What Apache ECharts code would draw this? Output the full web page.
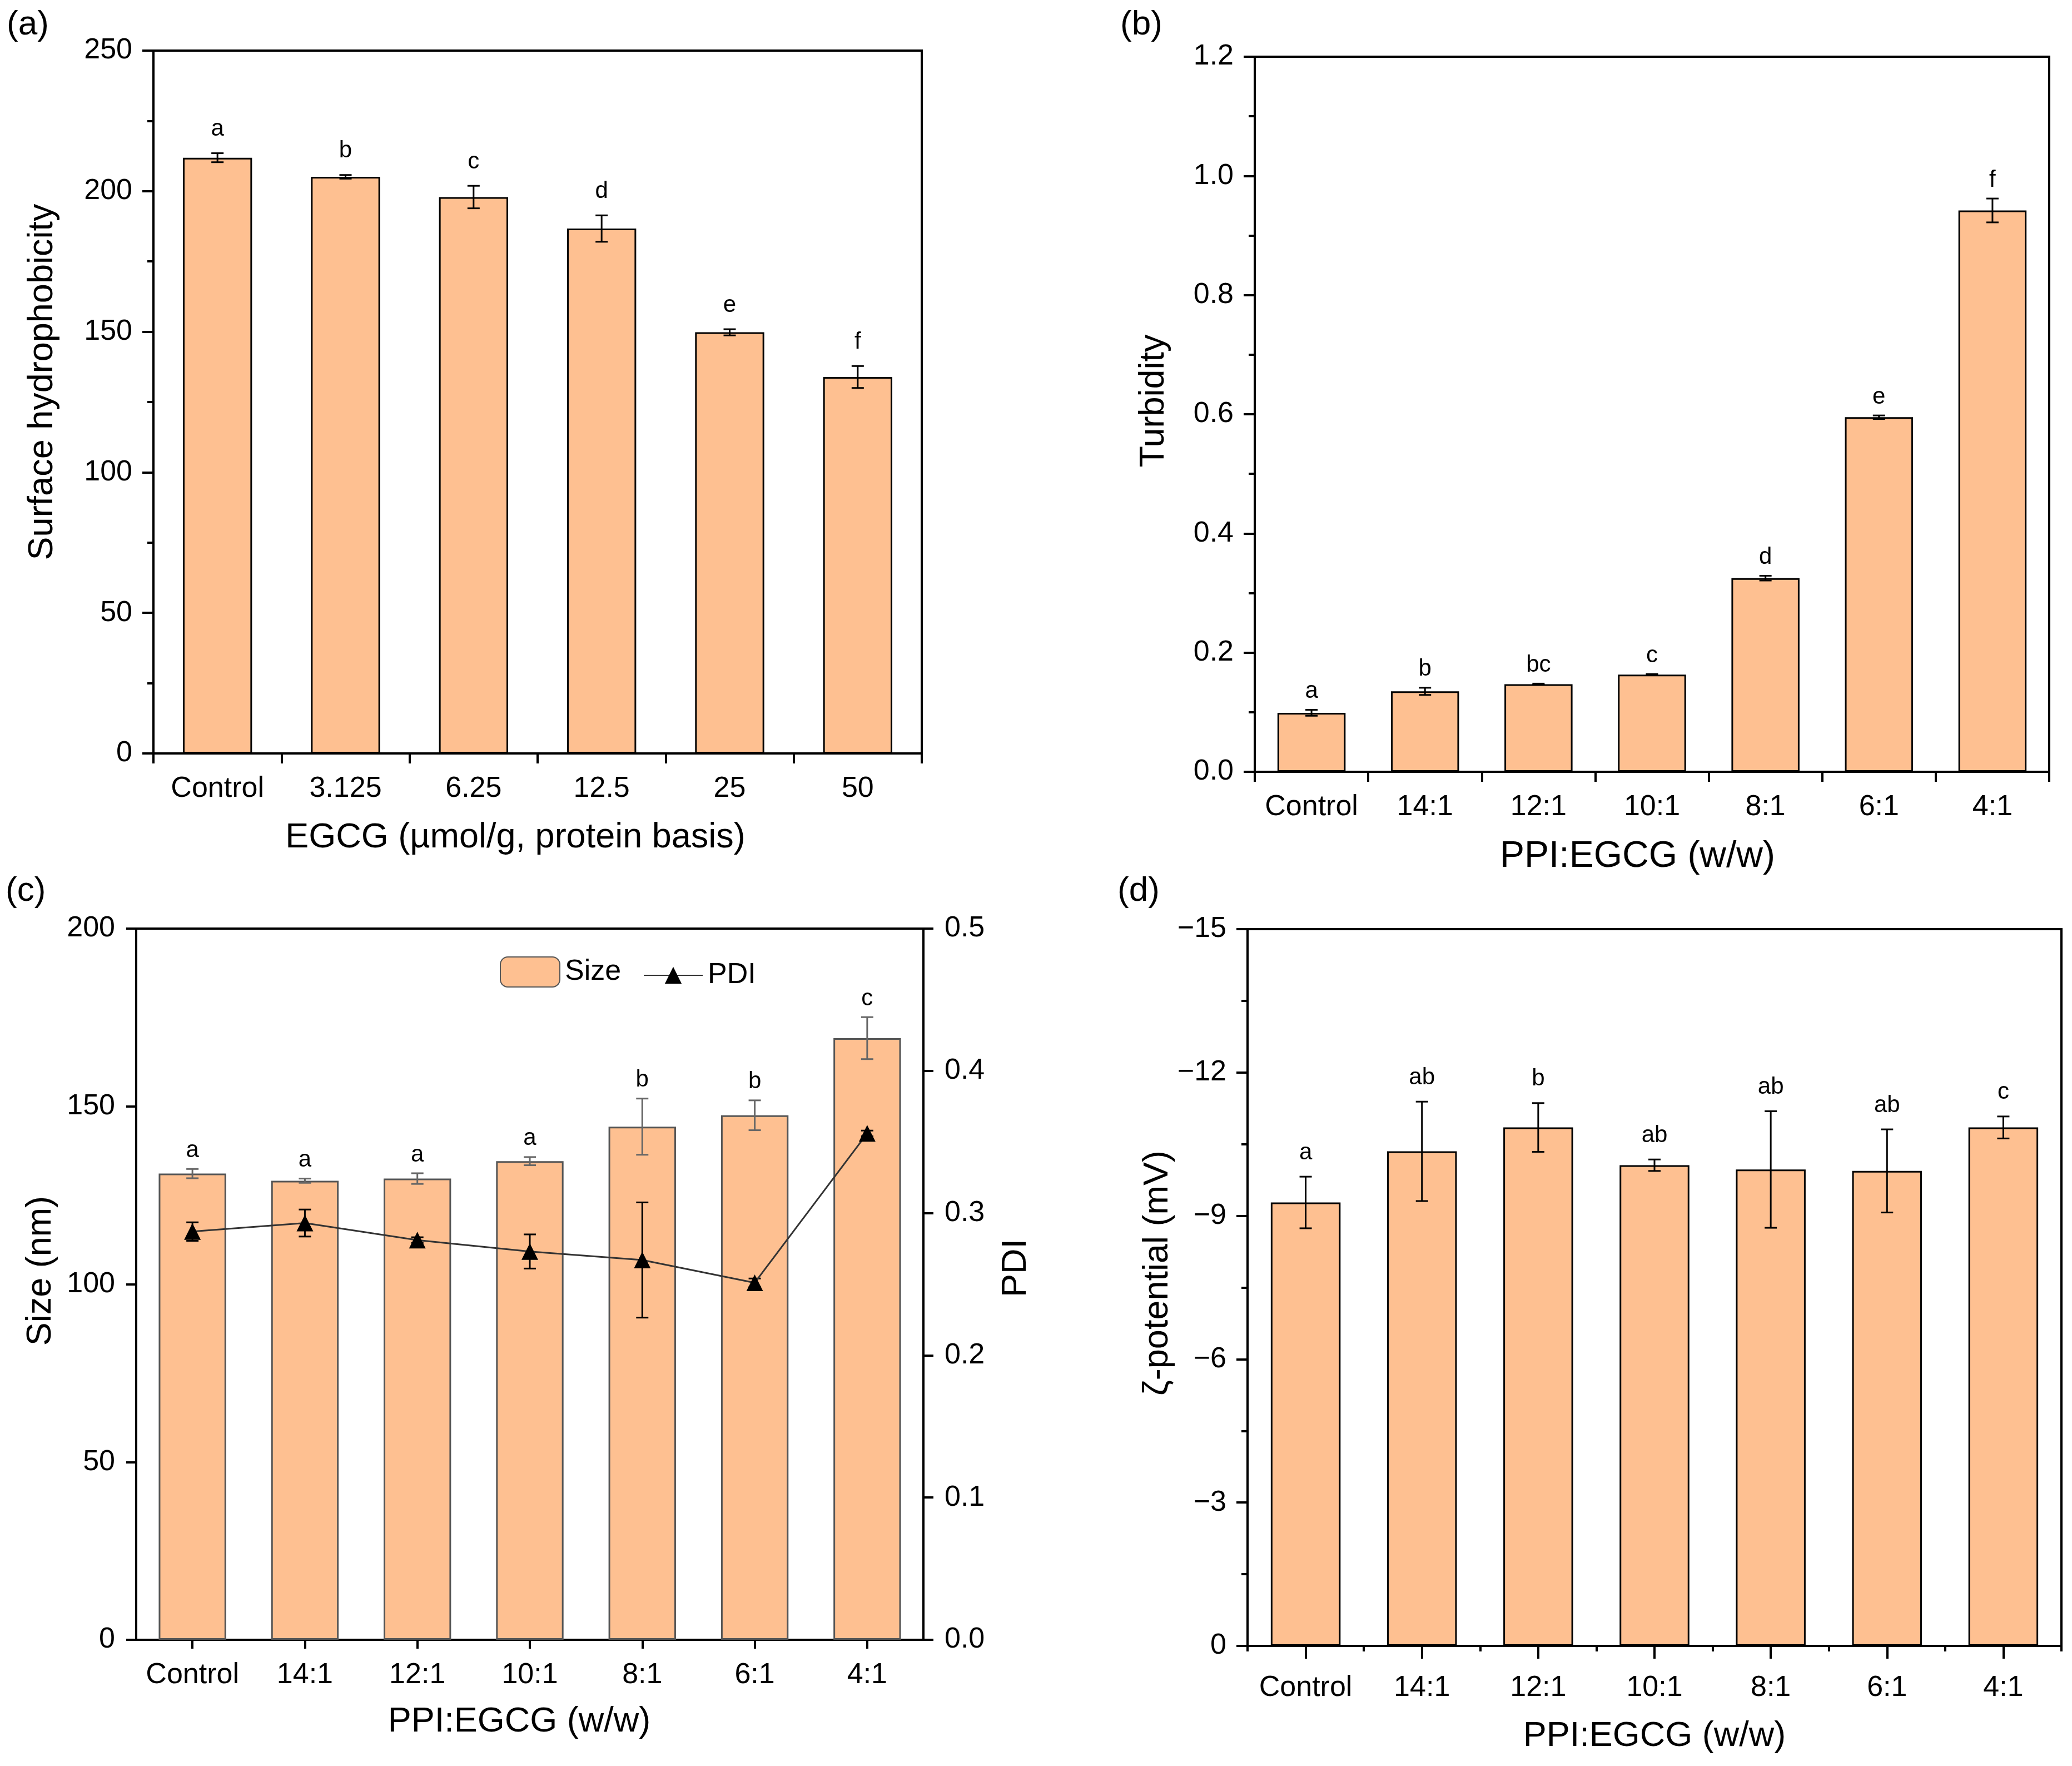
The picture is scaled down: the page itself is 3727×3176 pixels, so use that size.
<!DOCTYPE html>
<html><head><meta charset="utf-8">
<script src="https://cdn.jsdelivr.net/npm/echarts@6/dist/echarts.min.js"></script>
<style>html,body{margin:0;padding:0;background:#fff}#main{width:3727px;height:3176px}</style>
</head><body><div id="main"></div>
<script>
// ---------- data ----------
const catsA = ['Control', '3.125', '6.25', '12.5', '25', '50'];
const hydroVals = [211.9, 205.1, 197.9, 186.7, 149.8, 133.9];
const hydroErr = [1.6, 0.65, 4.0, 4.7, 1.1, 3.9];
const hydroLetters = ['a', 'b', 'c', 'd', 'e', 'f'];

const catsRatio = ['Control', '14:1', '12:1', '10:1', '8:1', '6:1', '4:1'];
const turbVals = [0.099, 0.135, 0.147, 0.163, 0.325, 0.595, 0.942];
const turbErr = [0.005, 0.006, 0.001, 0.001, 0.004, 0.003, 0.02];
const turbLetters = ['a', 'b', 'bc', 'c', 'd', 'e', 'f'];

const sizeVals = [131.1, 129.1, 129.7, 134.6, 144.3, 147.5, 169.2];
const sizeErr = [1.3, 0.6, 1.5, 1.15, 7.9, 4.2, 5.9];
const sizeLetters = ['a', 'a', 'a', 'a', 'b', 'b', 'c'];
const pdiVals = [0.287, 0.293, 0.281, 0.273, 0.267, 0.251, 0.356];
const pdiErr = [0.0065, 0.0095, 0.002, 0.012, 0.0405, 0.003, 0.002];

const zetaVals = [-9.28, -10.35, -10.85, -10.06, -9.97, -9.94, -10.85];
const zetaErr = [0.54, 1.04, 0.51, 0.12, 1.22, 0.87, 0.23];
const zetaLetters = ['a', 'ab', 'b', 'ab', 'ab', 'ab', 'c'];

const panelLabels = ['(a)', '(b)', '(c)', '(d)'];

// ---------- style ----------
const FONT = '"Liberation Sans", Arial, sans-serif';
const FILL = '#FEC091';
const TICK_FS = 52, NAME_FS = 63, LETTER_FS = 42;

const chart = echarts.init(document.getElementById('main'));

function axLine() { return { show: true, onZero: false, lineStyle: { color: '#000', width: 4 } }; }
function axLabel(extra) { return Object.assign({ fontSize: TICK_FS, color: '#000', fontFamily: FONT, margin: 38 }, extra || {}); }
function nameStyle(pad) { return { fontSize: NAME_FS, color: '#000', fontFamily: FONT, padding: pad || 0 }; }

function errSeries(xi, yi, vals, errs, letters, color, capW, lw, z, gap) {
  return {
    type: 'custom', xAxisIndex: xi, yAxisIndex: yi, z: z, silent: true,
    encode: { x: 0, y: 1 },
    data: vals.map((v, i) => [i, v, errs[i]]),
    renderItem: function (params, api) {
      const i = api.value(0), v = api.value(1), e = api.value(2);
      const p1 = api.coord([i, v - e]), p2 = api.coord([i, v + e]);
      const x = p1[0];
      const yTop = Math.min(p1[1], p2[1]), yBot = Math.max(p1[1], p2[1]);
      const st = { stroke: color, lineWidth: lw };
      const children = [
        { type: 'line', shape: { x1: x, y1: yTop, x2: x, y2: yBot }, style: st },
        { type: 'line', shape: { x1: x - capW, y1: yTop, x2: x + capW, y2: yTop }, style: st },
        { type: 'line', shape: { x1: x - capW, y1: yBot, x2: x + capW, y2: yBot }, style: st }
      ];
      if (letters) {
        children.push({ type: 'text', x: x, y: yTop - gap,
          style: { text: letters[params.dataIndex], fontSize: LETTER_FS, fontFamily: FONT, fill: '#000', align: 'center', verticalAlign: 'bottom' } });
      }
      return { type: 'group', children: children };
    }
  };
}

const gridBox = { show: true, borderColor: '#000', borderWidth: 4, backgroundColor: 'transparent', containLabel: false };

const option = {
  backgroundColor: '#fff',
  animation: false,
  grid: [
    Object.assign({ left: 276, top: 91, width: 1382, height: 1264 }, gridBox),
    Object.assign({ left: 2257, top: 102, width: 1429, height: 1286 }, gridBox),
    Object.assign({ left: 245, top: 1670, width: 1416, height: 1279 }, gridBox),
    Object.assign({ left: 2244, top: 1671, width: 1464, height: 1289 }, gridBox)
  ],
  legend: [
    { data: ['Size'], left: 899, top: 1720, itemWidth: 107, itemHeight: 54, padding: 0, itemGap: 0,
      textStyle: { fontSize: TICK_FS, color: '#000', fontFamily: FONT, padding: [0, 0, 0, 4] } },
    { data: ['PDI'], left: 1157, top: 1728, itemWidth: 106, itemHeight: 38, padding: 0, itemGap: 0,
      textStyle: { fontSize: TICK_FS, color: '#000', fontFamily: FONT, padding: [0, 0, 0, 4] } }
  ],
  xAxis: [
    { gridIndex: 0, type: 'category', data: catsA, position: 'bottom', axisLine: axLine(),
      axisTick: { show: true, interval: 0, length: 18, lineStyle: { color: '#000', width: 4 } },
      axisLabel: axLabel({ interval: 0 }), splitLine: { show: false },
      name: 'EGCG (µmol/g, protein basis)', nameLocation: 'middle', nameGap: 120, nameTextStyle: nameStyle([0, 80, 0, 0]) },
    { gridIndex: 1, type: 'category', data: catsRatio, position: 'bottom', axisLine: axLine(),
      axisTick: { show: true, interval: 0, length: 18, lineStyle: { color: '#000', width: 4 } },
      axisLabel: axLabel({ interval: 0 }), splitLine: { show: false },
      name: 'PPI:EGCG (w/w)', nameLocation: 'middle', nameGap: 120, nameTextStyle: Object.assign(nameStyle([0, 52, 0, 0]), { fontSize: 66 }) },
    { gridIndex: 2, type: 'category', data: catsRatio, position: 'bottom', axisLine: axLine(),
      axisTick: { show: true, interval: 0, alignWithLabel: true, length: 16, lineStyle: { color: '#000', width: 4 } },
      axisLabel: axLabel({ interval: 0 }), splitLine: { show: false },
      name: 'PPI:EGCG (w/w)', nameLocation: 'middle', nameGap: 116, nameTextStyle: nameStyle([0, 38, 0, 0]) },
    { gridIndex: 3, type: 'category', data: catsRatio, position: 'bottom', axisLine: axLine(),
      axisTick: { show: true, interval: 0, alignWithLabel: true, length: 23, lineStyle: { color: '#000', width: 4 } },
      axisLabel: axLabel({ interval: 0, margin: 50 }), splitLine: { show: false },
      name: 'PPI:EGCG (w/w)', nameLocation: 'middle', nameGap: 131, nameTextStyle: nameStyle() },
    { gridIndex: 3, type: 'category', data: catsRatio, position: 'bottom', axisLine: { show: false },
      axisTick: { show: true, interval: 0, length: 10, lineStyle: { color: '#000', width: 4 } },
      axisLabel: { show: false }, splitLine: { show: false } }
  ],
  yAxis: [
    { gridIndex: 0, type: 'value', min: 0, max: 250, interval: 50, position: 'left', axisLine: axLine(),
      axisTick: { show: true, length: 20, lineStyle: { color: '#000', width: 4 } },
      minorTick: { show: true, splitNumber: 2, length: 11, lineStyle: { color: '#000', width: 4 } },
      splitLine: { show: false }, minorSplitLine: { show: false }, axisLabel: axLabel(),
      name: 'Surface hydrophobicity', nameLocation: 'middle', nameGap: 168, nameRotate: 90, nameTextStyle: nameStyle([0, 0, 0, 72]) },
    { gridIndex: 1, type: 'value', min: 0, max: 1.2, interval: 0.2, position: 'left', axisLine: axLine(),
      axisTick: { show: true, length: 20, lineStyle: { color: '#000', width: 4 } },
      minorTick: { show: true, splitNumber: 2, length: 11, lineStyle: { color: '#000', width: 4 } },
      splitLine: { show: false }, axisLabel: axLabel({ formatter: v => v.toFixed(1) }),
      name: 'Turbidity', nameLocation: 'middle', nameGap: 150, nameRotate: 90, nameTextStyle: nameStyle([0, 0, 0, 48]) },
    { gridIndex: 2, type: 'value', min: 0, max: 200, interval: 50, position: 'left', axisLine: axLine(),
      axisTick: { show: true, length: 18, lineStyle: { color: '#000', width: 4 } },
      splitLine: { show: false }, axisLabel: axLabel(),
      name: 'Size (nm)', nameLocation: 'middle', nameGap: 140, nameRotate: 90, nameTextStyle: nameStyle([0, 0, 0, 48]) },
    { gridIndex: 2, type: 'value', min: 0, max: 0.5, interval: 0.1, position: 'right', axisLine: axLine(),
      axisTick: { show: true, length: 18, lineStyle: { color: '#000', width: 4 } },
      splitLine: { show: false }, axisLabel: axLabel({ formatter: v => v.toFixed(1) }),
      name: 'PDI', nameLocation: 'middle', nameGap: 135, nameRotate: 90, nameTextStyle: nameStyle([0, 0, 0, 58]) },
    { gridIndex: 3, type: 'value', min: -15, max: 0, interval: 3, inverse: true, position: 'left', axisLine: axLine(),
      axisTick: { show: true, length: 20, lineStyle: { color: '#000', width: 4 } },
      minorTick: { show: true, splitNumber: 2, length: 11, lineStyle: { color: '#000', width: 4 } },
      splitLine: { show: false },
      axisLabel: axLabel({ formatter: v => (v === 0 ? '0' : '\u2212' + Math.abs(v)) }),
      name: 'ζ-potential (mV)', nameLocation: 'middle', nameGap: 124, nameRotate: 90, nameTextStyle: nameStyle([0, 0, 0, 52]) }
  ],
  graphic: [
    { type: 'text', left: 12, top: 14, style: { text: panelLabels[0], fontSize: 62, fontFamily: FONT, fill: '#000' } },
    { type: 'text', left: 2015, top: 14, style: { text: panelLabels[1], fontSize: 62, fontFamily: FONT, fill: '#000' } },
    { type: 'text', left: 10, top: 1572, style: { text: panelLabels[2], fontSize: 62, fontFamily: FONT, fill: '#000' } },
    { type: 'text', left: 2010, top: 1572, style: { text: panelLabels[3], fontSize: 62, fontFamily: FONT, fill: '#000' } }
  ],
  series: [
    { name: 'Hydro', type: 'bar', xAxisIndex: 0, yAxisIndex: 0, data: hydroVals, barWidth: '54%', z: 2,
      itemStyle: { color: FILL, borderColor: '#000', borderWidth: 3 } },
    errSeries(0, 0, hydroVals, hydroErr, hydroLetters, '#000', 11, 3, 3, 22),

    { name: 'Turb', type: 'bar', xAxisIndex: 1, yAxisIndex: 1, data: turbVals, barWidth: '60%', z: 2,
      itemStyle: { color: FILL, borderColor: '#000', borderWidth: 3 } },
    errSeries(1, 1, turbVals, turbErr, turbLetters, '#000', 11, 3, 3, 12),

    { name: 'Size', type: 'bar', xAxisIndex: 2, yAxisIndex: 2, data: sizeVals, barWidth: '60%', z: 2,
      itemStyle: { color: FILL, borderColor: '#555', borderWidth: 3 } },
    errSeries(2, 2, sizeVals, sizeErr, sizeLetters, '#666', 11, 3, 3, 12),
    errSeries(2, 3, pdiVals, pdiErr, null, '#000', 11, 3, 4, 0),
    { name: 'PDI', type: 'line', xAxisIndex: 2, yAxisIndex: 3, data: pdiVals, z: 5,
      symbol: 'triangle', symbolSize: 30, lineStyle: { color: '#333', width: 3 },
      itemStyle: { color: '#000' } },

    { name: 'Zeta', type: 'bar', xAxisIndex: 3, yAxisIndex: 4, data: zetaVals, barWidth: '60%', z: 2,
      itemStyle: { color: FILL, borderColor: '#000', borderWidth: 3 } },
    errSeries(3, 4, zetaVals, zetaErr, zetaLetters, '#000', 11, 3, 3, 22)
  ]
};
chart.setOption(option);
</script>
</body></html>
